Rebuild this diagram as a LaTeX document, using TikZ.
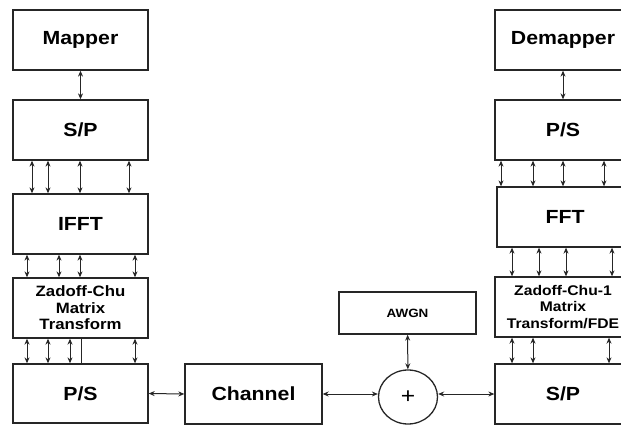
\documentclass[tikz,border=0pt]{standalone}
\usepackage{fontspec}
\setsansfont[FakeStretch=1.12]{Liberation Sans}
\usetikzlibrary{arrows.meta,positioning,shapes.geometric}
\definecolor{blkline}{HTML}{262626}

\begin{document}
\begin{tikzpicture}[x=1pt,y=-1pt,
  blk/.style={rectangle, draw=blkline, line width=1.3pt, minimum width=135pt,
              minimum height=60pt, inner sep=1pt, align=center,
              font=\sffamily\bfseries\fontsize{19}{21}\selectfont},
  zcblk/.style={blk, font=\sffamily\bfseries\fontsize{15}{16.5}\selectfont},
  arrow/.style={<->, >={Stealth[length=6pt,width=5pt]}, line width=1pt, draw=blkline}
]
  \clip (0,0) rectangle (621,425);
  % transmitter
  \node[blk] (map)  at (80.5,40)  {Mapper};
  \node[blk] (sp1)  at (80.5,130) {S/P};
  \node[blk] (ifft) at (80.5,224) {IFFT};
  \node[zcblk] (zc) at (80.5,308) {Zadoff-Chu\\Matrix\\Transform};
  \node[blk, minimum height=59pt] (ps1) at (80.5,393.5) {P/S};
  % receiver
  \node[blk, minimum width=136pt] (demap) at (563,40)  {Demapper};
  \node[blk, minimum width=136pt] (ps2)   at (563,130) {P/S};
  \node[blk, minimum width=136pt] (fft)   at (565,217) {FFT};
  \node[zcblk, minimum width=136pt, font=\sffamily\bfseries\fontsize{14}{16.5}\selectfont]
    (izc) at (563,307) {Zadoff-Chu-1\\Matrix\\Transform/FDE};
  \node[blk, minimum width=136pt] (sp2)   at (563,394) {S/P};
  % channel
  \node[blk, minimum width=137pt] (chan) at (253.5,394) {Channel};
  \node[blk, minimum width=137pt, minimum height=42pt,
        font=\sffamily\bfseries\fontsize{12}{14}\selectfont] (awgn) at (407.5,313) {AWGN};
  \node[ellipse, draw=blkline, line width=1.3pt, minimum width=59pt, minimum height=54pt,
        inner sep=0pt, font=\sffamily\fontsize{22}{24}\selectfont] (sum) at (408,397) {+};

  \draw[arrow] (map) -- (sp1);
  \foreach \xx in {32,48,80,129}
    \draw[arrow] (\xx,0 |- sp1.south) -- (\xx,0 |- ifft.north);
  \foreach \xx in {27,59,80,135}
    \draw[arrow] (\xx,0 |- ifft.south) -- (\xx,0 |- zc.north);
  \foreach \xx in {27,48,70,135}
    \draw[arrow] (\xx,0 |- zc.south) -- (\xx,0 |- ps1.north);
  \draw[line width=1pt, draw=blkline] (81,0 |- zc.south) -- (81,0 |- ps1.north);

  \draw[arrow] (demap) -- (ps2);
  \foreach \xx in {501,533,563,604}
    \draw[arrow] (\xx,0 |- ps2.south) -- (\xx,0 |- fft.north);
  \foreach \xx in {512,539,566,612}
    \draw[arrow] (\xx,0 |- fft.south) -- (\xx,0 |- izc.north);
  \foreach \xx in {512,533,609}
    \draw[arrow] (\xx,0 |- izc.south) -- (\xx,0 |- sp2.north);

  \draw[arrow] (ps1.east) -- (chan.west);
  \draw[arrow] (chan.east) -- (chan.east -| sum.west);
  \draw[arrow] (sum.east |- sp2.west) -- (sp2.west);
  \draw[arrow] (awgn) -- (sum);
\end{tikzpicture}
\end{document}
